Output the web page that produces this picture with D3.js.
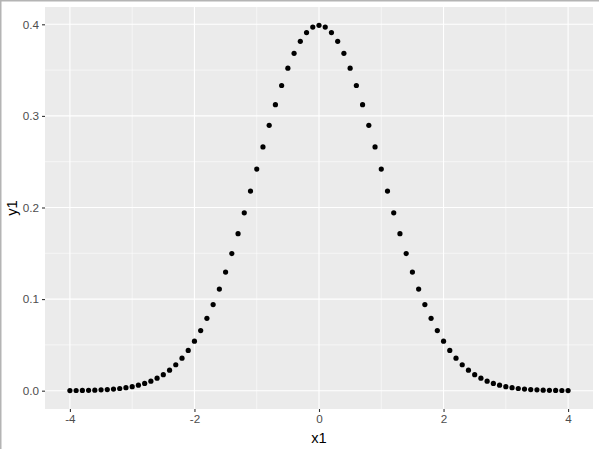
<!DOCTYPE html>
<html>
<head>
<meta charset="utf-8">
<script src="https://cdn.jsdelivr.net/npm/d3@7"></script>
<style>
  body { margin: 0; background: #fff; }
  svg text { font-family: "Liberation Sans", Arial, sans-serif; }
</style>
</head>
<body>
<div id="chart"></div>
<script>
// x1 values
var x1 = [
  -4.0, -3.9, -3.8, -3.7, -3.6, -3.5, -3.4, -3.3, -3.2, -3.1,
  -3.0, -2.9, -2.8, -2.7, -2.6, -2.5, -2.4, -2.3, -2.2, -2.1,
  -2.0, -1.9, -1.8, -1.7, -1.6, -1.5, -1.4, -1.3, -1.2, -1.1,
  -1.0, -0.9, -0.8, -0.7, -0.6, -0.5, -0.4, -0.3, -0.2, -0.1,
  0.0,
  0.1, 0.2, 0.3, 0.4, 0.5, 0.6, 0.7, 0.8, 0.9, 1.0,
  1.1, 1.2, 1.3, 1.4, 1.5, 1.6, 1.7, 1.8, 1.9, 2.0,
  2.1, 2.2, 2.3, 2.4, 2.5, 2.6, 2.7, 2.8, 2.9, 3.0,
  3.1, 3.2, 3.3, 3.4, 3.5, 3.6, 3.7, 3.8, 3.9, 4.0
]
// y1 values
var y1 = [
  0.0001, 0.0002, 0.0003, 0.0004, 0.0006, 0.0009, 0.0012, 0.0017, 0.0024, 0.0033,
  0.0044, 0.0060, 0.0079, 0.0104, 0.0136, 0.0175, 0.0224, 0.0283, 0.0355, 0.0440,
  0.0540, 0.0656, 0.0790, 0.0940, 0.1109, 0.1295, 0.1497, 0.1714, 0.1942, 0.2179,
  0.2420, 0.2661, 0.2897, 0.3123, 0.3332, 0.3521, 0.3683, 0.3814, 0.3910, 0.3970,
  0.3989,
  0.3970, 0.3910, 0.3814, 0.3683, 0.3521, 0.3332, 0.3123, 0.2897, 0.2661, 0.2420,
  0.2179, 0.1942, 0.1714, 0.1497, 0.1295, 0.1109, 0.0940, 0.0790, 0.0656, 0.0540,
  0.0440, 0.0355, 0.0283, 0.0224, 0.0175, 0.0136, 0.0104, 0.0079, 0.0060, 0.0044,
  0.0033, 0.0024, 0.0017, 0.0012, 0.0009, 0.0006, 0.0004, 0.0003, 0.0002, 0.0001
]
var xTicks = [-4, -2, 0, 2, 4]
var xMinor = [-3, -1, 1, 3]
var yTicks = [0.0, 0.1, 0.2, 0.3, 0.4]
var yMinor = [0.05, 0.15, 0.25, 0.35]

var width = 599, height = 449
var margin = { top: 7, right: 6, bottom: 40, left: 45 }
var pw = width - margin.left - margin.right
var ph = height - margin.top - margin.bottom

var svg = d3.select('#chart').append('svg')
  .attr('width', width)
  .attr('height', height)

// outer frame (top and left edges visible)
svg.append('line').attr('x1', 0).attr('x2', width).attr('y1', 0.5).attr('y2', 0.5)
  .attr('stroke', '#b4b4b4').attr('stroke-width', 2)
svg.append('line').attr('x1', 0.5).attr('x2', 0.5).attr('y1', 0).attr('y2', height)
  .attr('stroke', '#b4b4b4').attr('stroke-width', 2)

var g = svg.append('g')
  .attr('transform', 'translate(' + margin.left + ',' + margin.top + ')')

// ggplot style 5% expansion
var xScale = d3.scaleLinear().domain([-4.4, 4.4]).range([0, pw])
var yScale = d3.scaleLinear().domain([-0.02, 0.4189]).range([ph, 0])

g.append('rect')
  .attr('width', pw).attr('height', ph)
  .attr('fill', '#ebebeb')

// minor grid
g.selectAll('.xminor').data(xMinor).enter().append('line')
  .attr('x1', xScale).attr('x2', xScale).attr('y1', 0).attr('y2', ph)
  .attr('stroke', '#fff').attr('stroke-width', 0.55)
g.selectAll('.yminor').data(yMinor).enter().append('line')
  .attr('y1', yScale).attr('y2', yScale).attr('x1', 0).attr('x2', pw)
  .attr('stroke', '#fff').attr('stroke-width', 0.55)

// major grid
g.selectAll('.xmajor').data(xTicks).enter().append('line')
  .attr('x1', xScale).attr('x2', xScale).attr('y1', 0).attr('y2', ph)
  .attr('stroke', '#fff').attr('stroke-width', 1.1)
g.selectAll('.ymajor').data(yTicks).enter().append('line')
  .attr('y1', yScale).attr('y2', yScale).attr('x1', 0).attr('x2', pw)
  .attr('stroke', '#fff').attr('stroke-width', 1.1)

// axes
var xAxis = d3.axisBottom(xScale).tickValues(xTicks).tickSize(3).tickPadding(3)
  .tickFormat(d3.format('d'))
var yAxis = d3.axisLeft(yScale).tickValues(yTicks).tickSize(3).tickPadding(3)
  .tickFormat(d3.format('.1f'))

function styleAxis (sel) {
  sel.select('.domain').remove()
  sel.selectAll('.tick line').attr('stroke', '#333').attr('stroke-width', 1.1)
  sel.selectAll('.tick text')
    .attr('fill', '#4d4d4d')
    .style('font-size', '11.7px')
    .text(function (d) { return d3.select(this).text().replace('\u2212', '-') })
}

g.append('g')
  .attr('transform', 'translate(0,' + ph + ')')
  .call(xAxis)
  .call(styleAxis)

g.append('g')
  .call(yAxis)
  .call(styleAxis)

// points
g.selectAll('.dot')
  .data(x1)
  .enter().append('circle')
  .attr('class', 'dot')
  .attr('cx', function (d) { return xScale(d) })
  .attr('cy', function (d, i) { return yScale(y1[i]) })
  .attr('r', 2.6)
  .attr('fill', '#000')

// axis titles
svg.append('text')
  .attr('x', margin.left + pw / 2)
  .attr('y', height - 6)
  .attr('text-anchor', 'middle')
  .style('font-size', '14.7px')
  .attr('fill', '#000')
  .text('x1')

svg.append('text')
  .attr('transform', 'translate(17,' + (margin.top + ph / 2) + ') rotate(-90)')
  .attr('text-anchor', 'middle')
  .style('font-size', '14.7px')
  .attr('fill', '#000')
  .text('y1')
</script>
</body>
</html>
